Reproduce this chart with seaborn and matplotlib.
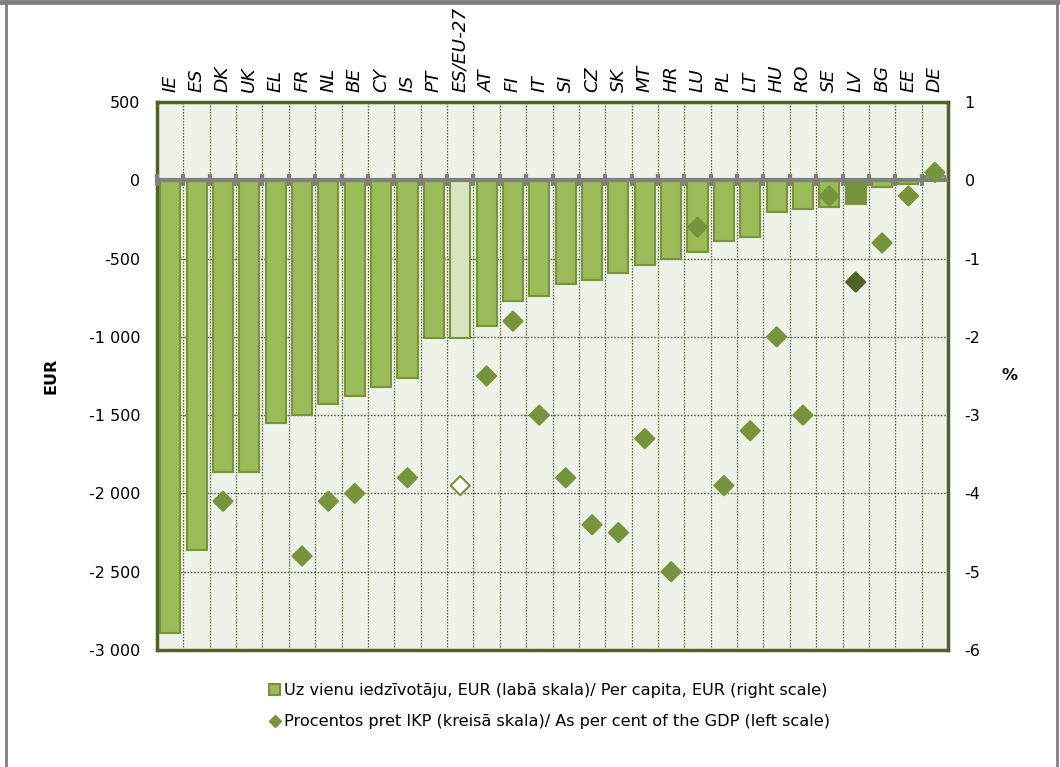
import numpy as np
import pandas as pd
import matplotlib
matplotlib.use("Agg")
import matplotlib.pyplot as plt
from matplotlib.patches import Patch
from matplotlib.lines import Line2D
import seaborn as sns

countries = ["IE", "ES", "DK", "UK", "EL", "FR", "NL", "BE", "CY", "IS", "PT", "ES/EU-27",
             "AT", "FI", "IT", "SI", "CZ", "SK", "MT", "HR", "LU", "PL", "LT", "HU", "RO",
             "SE", "LV", "BG", "EE", "DE"]
per_capita_eur = [-2890, -2360, -1860, -1860, -1550, -1500, -1430, -1380, -1320, -1260,
                  -1010, -1005, -930, -770, -740, -660, -640, -595, -540, -505, -455,
                  -385, -365, -205, -185, -170, -150, -40, -25, 25]
pct_gdp = [np.nan, np.nan, -4.1, np.nan, np.nan, -4.8, -4.1, -4.0, np.nan, -3.8,
           np.nan, -3.9, -2.5, -1.8, -3.0, -3.8, -4.4, -4.5, -3.3, -5.0, -0.6,
           -3.9, -3.2, -2.0, -3.0, -0.2, -1.3, -0.8, -0.2, 0.1]
highlight_light = "ES/EU-27"
highlight_dark = "LV"

label_bar = "Uz vienu iedzīvotāju, EUR (labā skala)/ Per capita, EUR (right scale)"
label_pt = "Procentos pret IKP (kreisā skala)/ As per cent of the GDP (left scale)"

bar_green = "#9BBB59"
edge_green = "#77933C"
dark_green = "#4F6228"
light_green = "#D7E4BD"
bg = "#EEF2E8"

sns.set_style("white")
plt.rcParams["font.family"] = ["DejaVu Sans"]
plt.rcParams["axes.unicode_minus"] = False
plt.rcParams["text.color"] = "black"
plt.rcParams["axes.labelcolor"] = "black"
plt.rcParams["xtick.color"] = "black"
plt.rcParams["ytick.color"] = "black"

df = pd.DataFrame({"country": countries, "eur": per_capita_eur, "pct": pct_gdp})
df["pos"] = np.arange(len(countries))

fig = plt.figure(figsize=(10.6, 7.67), dpi=100)
ax = fig.add_axes([157/1060, 1 - 650/767, (948-157)/1060, (650-102)/767])
ax.set_facecolor(bg)

bar_colors = {c: (light_green if c == highlight_light else edge_green if c == highlight_dark else bar_green)
              for c in countries}
sns.barplot(data=df, x="country", y="eur", hue="country", palette=bar_colors, legend=False,
            order=countries, ax=ax, width=0.76, edgecolor=edge_green, linewidth=1.5,
            saturation=1, zorder=3)

n = len(countries)
ax.set_xlim(-0.5, n - 0.5)
ax.set_ylim(-3000, 500)
ax.set_yticks(np.arange(-3000, 501, 500))
ax.yaxis.set_major_formatter(matplotlib.ticker.FuncFormatter(lambda v, p: f"{int(v):,}".replace(",", " ")))
ax.tick_params(axis="y", length=0, labelsize=11.5, pad=12)

# horizontal grid (dotted)
for v in np.arange(-2500, 500, 500):
    if v != 0:
        ax.axhline(v, color="#56663c", lw=1.0, ls=(0, (1.2, 1.2)), zorder=1)
# vertical grid at category boundaries
bounds = np.arange(0.5, n - 0.5, 1)
for b in bounds:
    ax.axvline(b, color="#56663c", lw=0.9, ls=(0, (1.2, 1.2)), zorder=1)

# zero line with small ticks
ax.axhline(0, color="#808080", lw=3, zorder=4)
ax.plot(np.concatenate([[-0.5], bounds]), np.zeros(len(bounds) + 1), ls="none", marker="|",
        markersize=9, mew=3, color="#808080", zorder=4, clip_on=False)

ax.xaxis.set_ticks_position("top")
ax.set_xticks(range(n))
ax.set_xticklabels(countries, rotation=90, fontstyle="italic", fontsize=13.3)
ax.tick_params(axis="x", length=0, pad=7)
ax.set_xlabel("")
ax.set_ylabel("EUR", fontsize=11.5, fontweight="bold", labelpad=22)
for s in ax.spines.values():
    s.set_color(dark_green)
    s.set_linewidth(2.5)

ax2 = ax.twinx()
ax2.set_ylim(-6, 1)
ax2.set_yticks(np.arange(-6, 2, 1))
ax2.tick_params(axis="y", length=0, labelsize=11.5, pad=12)
ax2.set_facecolor("none")
for s in ax2.spines.values():
    s.set_visible(False)

pts = df.dropna(subset=["pct"])
pt_face = [("white" if c == highlight_light else dark_green if c == highlight_dark else edge_green) for c in pts["country"]]
pt_edge = [(edge_green if c == highlight_light else dark_green if c == highlight_dark else edge_green) for c in pts["country"]]
sns.scatterplot(x=pts["pos"].to_numpy(), y=pts["pct"].to_numpy(), marker="D", s=95, c=pt_face,
                edgecolor=pt_edge, linewidth=1.5, ax=ax2, zorder=5, clip_on=False)
ax2.set_xlim(-0.5, n - 0.5)
ax2.set_ylabel("")
fig.text(1010/1060, 1 - 375/767, "%", fontsize=11.5, fontweight="bold", ha="center", va="center")

handles = [Patch(facecolor=bar_green, edgecolor=edge_green, linewidth=1.5),
           Line2D([], [], ls="none", marker="D", markersize=6, color=edge_green)]
fig.legend(handles, [label_bar, label_pt], loc="upper left", bbox_to_anchor=(261/1060, 1 - 675/767),
           frameon=False, fontsize=11.6, handlelength=0.7, handleheight=0.7, handletextpad=0.2,
           labelspacing=1.0, borderpad=0)

# figure border
fig.add_artist(Line2D([0, 1], [1 - 2/767, 1 - 2/767], transform=fig.transFigure, color="#808080", lw=3.5))
fig.add_artist(Line2D([5.5/1060, 5.5/1060], [0, 1], transform=fig.transFigure, color="#808080", lw=2))
fig.add_artist(Line2D([1057/1060, 1057/1060], [0, 1], transform=fig.transFigure, color="#808080", lw=2))

fig.savefig("out.png", dpi=100)
